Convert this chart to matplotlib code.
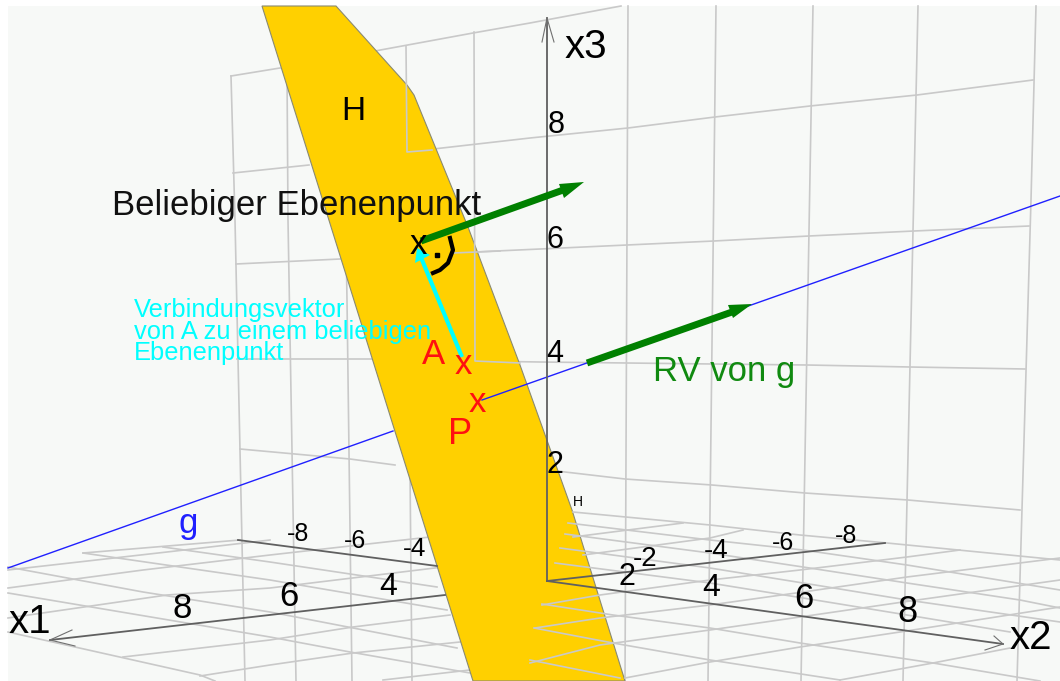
import matplotlib
matplotlib.use("Agg")
import matplotlib.pyplot as plt

plt.rcParams['font.family'] = ['Liberation Sans', 'DejaVu Sans']

plane_h = [(262, 6), (336, 6), (407, 85), (414, 95), (468, 227), (520, 365), (572, 510),
           (625, 681), (473, 681)]

wall_vertical = [
    [(231, 76), (235, 220), (245, 681)],
    [(287, 70), (288, 220), (296, 681)],
    [(343, 60), (347, 300), (352, 681)],
    [(407, 152), (412, 681)],
    [(628, 6), (625, 681)],
    [(716, 6), (708, 681)],
    [(813, 6), (801, 681)],
    [(918, 6), (903, 681)],
    [(1036, 6), (1031, 200), (1017, 681)],
]
wall_horizontal = [
    [(231, 76), (280, 68)],
    [(375, 51), (473, 33), (530, 23), (621, 6)],
    [(233, 173), (309, 165)],
    [(407, 152), (530, 138), (628, 128), (715, 117), (810, 106), (917, 95), (1033, 80)],
    [(236, 264), (340, 259)],
    [(453, 253), (540, 249), (627, 245), (714, 241), (809, 236), (914, 231), (1029, 226)],
    [(237, 359), (372, 359)],
    [(475, 361), (540, 362), (627, 363), (713, 364), (807, 365), (910, 367), (1025, 369)],
    [(240, 449), (350, 459), (395, 465)],
    [(548, 470), (625, 479), (712, 485), (805, 493), (908, 500), (1020, 510)],
]
floor_left = [
    [(8, 567), (143, 592), (270, 612), (457, 648)],
    [(8, 593), (270, 637), (350, 652), (470, 673)],
    [(8, 632), (200, 675), (215, 681)],
    [(83, 553), (270, 580), (447, 610)],
    [(163, 547), (270, 562), (437, 587)],
    [(8, 588), (143, 570), (270, 555), (430, 537)],
    [(8, 618), (167, 595), (270, 588), (443, 567)],
    [(123, 657), (270, 640), (353, 627), (450, 615)],
    [(200, 676), (270, 665), (353, 653), (460, 642)],
    [(383, 680), (470, 670)],
    [(8, 570), (167, 552), (270, 540)],
    [(83, 553), (240, 540)],
]
floor_right = [
    [(573, 512), (710, 525), (800, 535), (887, 543), (1060, 560)],
    [(568, 523), (710, 540), (803, 550), (907, 565), (1060, 590)],
    [(565, 534), (710, 553), (803, 567), (907, 583), (1020, 600), (1060, 608)],
    [(560, 548), (710, 568), (803, 583), (907, 600), (1060, 622)],
    [(555, 563), (710, 583), (803, 598), (907, 615), (1010, 632)],
    [(542, 604), (613, 615), (710, 628), (800, 643), (933, 663), (1040, 681)],
    [(534, 628), (613, 643), (710, 660), (840, 680)],
    [(530, 660), (620, 678)],
    [(625, 678), (710, 662), (800, 647), (900, 632), (1060, 607)],
    [(840, 680), (933, 663), (1010, 648)],
    [(530, 663), (600, 645), (710, 630), (800, 617), (903, 602), (1060, 580)],
    [(535, 628), (600, 618), (710, 605), (803, 592), (907, 577), (1060, 558)],
    [(542, 605), (600, 595), (710, 580), (800, 570), (907, 557), (960, 550)],
    [(583, 555), (710, 538), (743, 530)],
    [(573, 537), (683, 523)],
]

axis_lines = [
    [(50, 640), (445, 595)],
    [(238, 540), (437, 566)],
    [(547, 581), (885, 543)],
    [(547, 581), (1003, 644)],
    [(547, 18), (547, 581)],
]
axis_heads = [
    [(72, 630), (50, 640), (75, 646)],
    [(994, 636), (1003, 644), (985, 650)],
    [(542, 42), (547, 18), (554, 42)],
]

line_g = [[(8, 568), (393, 431)], [(482, 400), (1060, 196)]]

green_arrows = [
    {'shaft': [(421, 241), (566, 189)], 'head': [(559, 184), (584, 182), (564, 198)]},
    {'shaft': [(587, 363), (732, 312)], 'head': [(728, 305), (752, 304), (733, 318)]},
]
cyan_shaft = [(462, 357), (420, 255)]
cyan_head = [(415, 263), (417, 248), (430, 255)]
angle_arc = [(450, 238), (453, 250), (448, 263), (440, 270), (433, 273)]
angle_dot = (437, 255)

tick_labels = [
    ('8', 182, 608, 25), ('6', 289, 596, 25), ('4', 388, 587, 23),
    ('-8', 298, 534, 18), ('-6', 355, 541, 18), ('-4', 415, 549, 19),
    ('2', 627, 577, 22), ('4', 711, 588, 23), ('6', 804, 599, 25), ('8', 907, 612, 26),
    ('-2', 645, 559, 20), ('-4', 716, 551, 20), ('-6', 783, 543, 18), ('-8', 846, 536, 18),
    ('2', 555, 465, 22), ('4', 555, 354, 22), ('6', 555, 240, 22), ('8', 556, 125, 22),
]
axis_names = [('x1', 30, 622), ('x2', 1031, 638), ('x3', 586, 47)]
cyan_text = ['Verbindungsvektor', 'von A zu einem beliebigen', 'Ebenenpunkt']
cyan_y = [310, 332, 353]


def poly(ax, pts, **kw):
    ax.plot([p[0] for p in pts], [p[1] for p in pts], **kw)


fig = plt.figure(figsize=(10.6, 6.81), dpi=100)
ax = fig.add_axes([0, 0, 1, 1])
ax.set_xlim(0, 1060)
ax.set_ylim(681, 0)
ax.axis('off')

ax.fill([8, 1060, 1060, 8], [6, 6, 681, 681], color='#f7f9f7', zorder=0, lw=0)

grid = dict(color='#c9c9c9', lw=1.2, zorder=1)
for pts in wall_vertical + wall_horizontal + floor_left:
    poly(ax, pts, **grid)

ax.fill([p[0] for p in plane_h], [p[1] for p in plane_h],
        facecolor='#ffd000', edgecolor='#8a8a70', lw=0.8, zorder=2)

# diese Gitterlinien liegen vor der Ebene
on_plane = dict(color='#c9c9c9', lw=1.2, zorder=3)
for pts in floor_right:
    poly(ax, pts, **on_plane)
poly(ax, [(406, 46), (407, 152), (432, 150)], **on_plane)
poly(ax, [(453, 253), (500, 251)], **on_plane)
poly(ax, [(474, 32), (475, 361), (520, 363)], **on_plane)

for pts in line_g:
    poly(ax, pts, color='#2020ff', lw=1.0, zorder=4)

for pts in axis_lines:
    poly(ax, pts, color='#606060', lw=1.3, zorder=4)
for pts in axis_heads:
    poly(ax, pts, color='#707070', lw=0.8, zorder=4)

for arrow in green_arrows:
    poly(ax, arrow['shaft'], color='#008000', lw=5, solid_capstyle='butt', zorder=5)
    ax.fill([p[0] for p in arrow['head']], [p[1] for p in arrow['head']],
            color='#008000', lw=0, zorder=5)

poly(ax, cyan_shaft, color='#00ffff', lw=3, solid_capstyle='butt', zorder=6)
ax.fill([p[0] for p in cyan_head], [p[1] for p in cyan_head], color='#00ffff', lw=0, zorder=6)
poly(ax, angle_arc, color='black', lw=3, zorder=6)
ax.plot([angle_dot[0]], [angle_dot[1]], 's', color='black', ms=3.5, zorder=6)

for txt, x, y, size in tick_labels:
    ax.text(x, y, txt, fontsize=size, ha='center', va='center', color='black', zorder=7)
for txt, x, y in axis_names:
    ax.text(x, y, txt, fontsize=29, ha='center', va='center', color='black', zorder=7)

ax.text(112, 205, 'Beliebiger Ebenenpunkt', fontsize=25, ha='left', va='center', color='#111111', zorder=7)
ax.text(353, 112, 'H', fontsize=24, ha='center', va='center', color='black', zorder=7)
ax.text(578, 502, 'H', fontsize=10, ha='center', va='center', color='black', zorder=7)
ax.text(188, 524, 'g', fontsize=25, ha='center', va='center', color='#2020ff', zorder=7)
ax.text(724, 371, 'RV von g', fontsize=25, ha='center', va='center', color='#108a10', zorder=7)
ax.text(433, 355, 'A', fontsize=25, ha='center', va='center', color='#ff1010', zorder=7)
ax.text(460, 435, 'P', fontsize=26, ha='center', va='center', color='#ff1010', zorder=7)
ax.text(463, 364, 'x', fontsize=25, ha='center', va='center', color='#ff1010', zorder=7)
ax.text(477, 403, 'x', fontsize=25, ha='center', va='center', color='#ff1010', zorder=7)
ax.text(418, 244, 'x', fontsize=25, ha='center', va='center', color='black', zorder=7)
for txt, y in zip(cyan_text, cyan_y):
    ax.text(134, y, txt, fontsize=18.4, ha='left', va='center', color='#00ffff', zorder=7)

fig.savefig('out.png', dpi=100)
